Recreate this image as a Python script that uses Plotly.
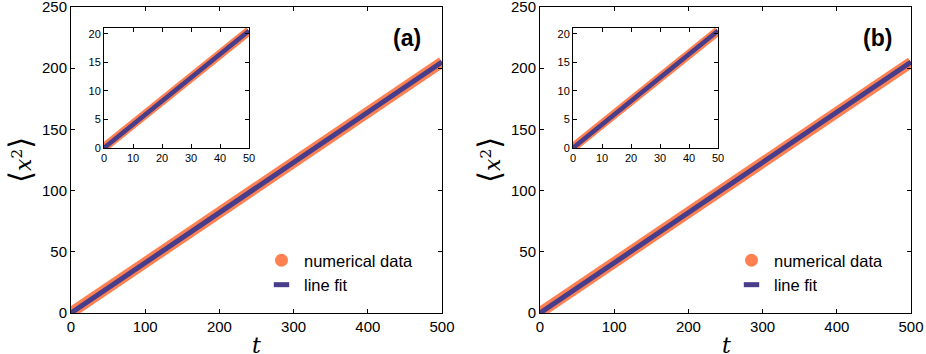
import plotly.graph_objects as go

# numerical data, main panels (t from 0 to 500)
t_main = [0, 50, 100, 150, 200, 250, 300, 350, 400, 450, 500]
x2_main_a = [0.2, 20.6, 41.1, 61.6, 82.0, 102.4, 122.9, 143.5, 164.0, 184.4, 205.0]
x2_main_b = [0.3, 20.5, 41.0, 61.5, 82.1, 102.5, 123.0, 143.4, 163.9, 184.5, 204.8]

# numerical data, insets (t from 0 to 50)
t_ins = [0, 5, 10, 15, 20, 25, 30, 35, 40, 45, 50]
x2_ins_a = [0.1, 2.1, 4.2, 6.2, 8.2, 10.3, 12.3, 14.4, 16.4, 18.5, 20.5]
x2_ins_b = [0.1, 2.1, 4.1, 6.2, 8.2, 10.2, 12.3, 14.3, 16.4, 18.4, 20.5]

# line fits
t_fit_main = [0, 500]
fit_main = [0, 205]
t_fit_ins = [0, 50]
fit_ins = [0, 20.5]

orange = '#FF8050'
blue = '#483D8B'
W, H = 926, 354

def px_x(p):
    return p / W

def px_y(p):
    return 1 - p / H

fig = go.Figure()

panels = [
    ('x', 'y', 'x3', 'y3', x2_main_a, x2_ins_a, 'legend'),
    ('x2', 'y2', 'x4', 'y4', x2_main_b, x2_ins_b, 'legend2'),
]
for xm, ym, xi, yi, main, ins, leg in panels:
    fig.add_trace(go.Scatter(x=t_main, y=main, mode='lines', xaxis=xm, yaxis=ym,
                             line=dict(color=orange, width=11), showlegend=False))
    fig.add_trace(go.Scatter(x=t_fit_main, y=fit_main, mode='lines', xaxis=xm, yaxis=ym,
                             line=dict(color=blue, width=5), showlegend=False))
    fig.add_trace(go.Scatter(x=t_ins, y=ins, mode='lines', xaxis=xi, yaxis=yi,
                             line=dict(color=orange, width=9), showlegend=False))
    fig.add_trace(go.Scatter(x=t_fit_ins, y=fit_ins, mode='lines', xaxis=xi, yaxis=yi,
                             line=dict(color=blue, width=4.5), showlegend=False))
    # legend entries
    fig.add_trace(go.Scatter(x=[None], y=[None], mode='markers', xaxis=xm, yaxis=ym,
                             name='numerical data', legend=leg,
                             marker=dict(color=orange, size=13, symbol='circle')))
    fig.add_trace(go.Scatter(x=[None], y=[None], mode='markers', xaxis=xm, yaxis=ym,
                             name='line fit', legend=leg,
                             marker=dict(symbol='line-ew', size=11,
                                         line=dict(color=blue, width=5))))

axis_common = dict(showline=True, mirror='ticks', linecolor='black', linewidth=1,
                   ticks='inside', ticklen=4, tickcolor='black', showgrid=False,
                   zeroline=False, automargin=False, ticklabeloverflow='allow')
tick_main = dict(family='Liberation Sans, Arial', size=15, color='black')
tick_ins = dict(family='Liberation Sans, Arial', size=11, color='black')
legend_font = dict(family='Liberation Sans, Arial', size=16.5, color='black')

fig.update_layout(
    width=W, height=H,
    margin=dict(l=0, r=0, t=0, b=0),
    paper_bgcolor='white', plot_bgcolor='white',
    xaxis=dict(domain=[px_x(71), px_x(442)], range=[0, 500], dtick=100,
               anchor='y', tickfont=tick_main, **axis_common),
    yaxis=dict(domain=[px_y(313), px_y(7)], range=[0, 250], dtick=50,
               anchor='x', tickfont=tick_main, **axis_common),
    xaxis2=dict(domain=[px_x(540), px_x(911)], range=[0, 500], dtick=100,
                anchor='y2', tickfont=tick_main, **axis_common),
    yaxis2=dict(domain=[px_y(313), px_y(7)], range=[0, 250], dtick=50,
                anchor='x2', tickfont=tick_main, **axis_common),
    xaxis3=dict(domain=[px_x(104), px_x(249)], range=[0, 50], dtick=10,
                anchor='y3', tickfont=tick_ins, **axis_common),
    yaxis3=dict(domain=[px_y(148), px_y(28)], range=[0, 21], dtick=5,
                anchor='x3', tickfont=tick_ins, **axis_common),
    xaxis4=dict(domain=[px_x(573), px_x(718)], range=[0, 50], dtick=10,
                anchor='y4', tickfont=tick_ins, **axis_common),
    yaxis4=dict(domain=[px_y(148), px_y(28)], range=[0, 21], dtick=5,
                anchor='x4', tickfont=tick_ins, **axis_common),
    legend=dict(x=px_x(259), y=px_y(243), xanchor='left', yanchor='top', itemwidth=35,
                font=legend_font, bgcolor='rgba(0,0,0,0)', tracegroupgap=0),
    legend2=dict(x=px_x(729), y=px_y(243), xanchor='left', yanchor='top', itemwidth=35,
                 font=legend_font, bgcolor='rgba(0,0,0,0)', tracegroupgap=0),
)

serif = dict(family='DejaVu Serif, Liberation Serif', size=22, color='black')
big = '<span style="font-size:31px">'
for cx in [256, 726]:
    fig.add_annotation(x=px_x(cx), y=px_y(345), xref='paper', yref='paper',
                       xanchor='center', yanchor='middle',
                       text='<i>t</i>', showarrow=False, font=serif)
for cx in [20, 489]:
    fig.add_annotation(x=px_x(cx), y=px_y(160), xref='paper', yref='paper',
                       xanchor='center', yanchor='middle',
                       text=big + '⟨</span><i>x</i><sup>2</sup>' + big + '⟩</span>',
                       textangle=-90, showarrow=False, font=serif)
for cx, lab in [(407, '(a)'), (877, '(b)')]:
    fig.add_annotation(x=px_x(cx), y=px_y(38), xref='paper', yref='paper',
                       xanchor='center', yanchor='middle',
                       text='<b>' + lab + '</b>', showarrow=False,
                       font=dict(family='Liberation Sans, Arial', size=23, color='black'))

# page body has a default margin; remove it so the figure sits at the window's corner
fig.write_html('out.html', config={'displayModeBar': False},
               post_script="document.body.style.margin='0';")
